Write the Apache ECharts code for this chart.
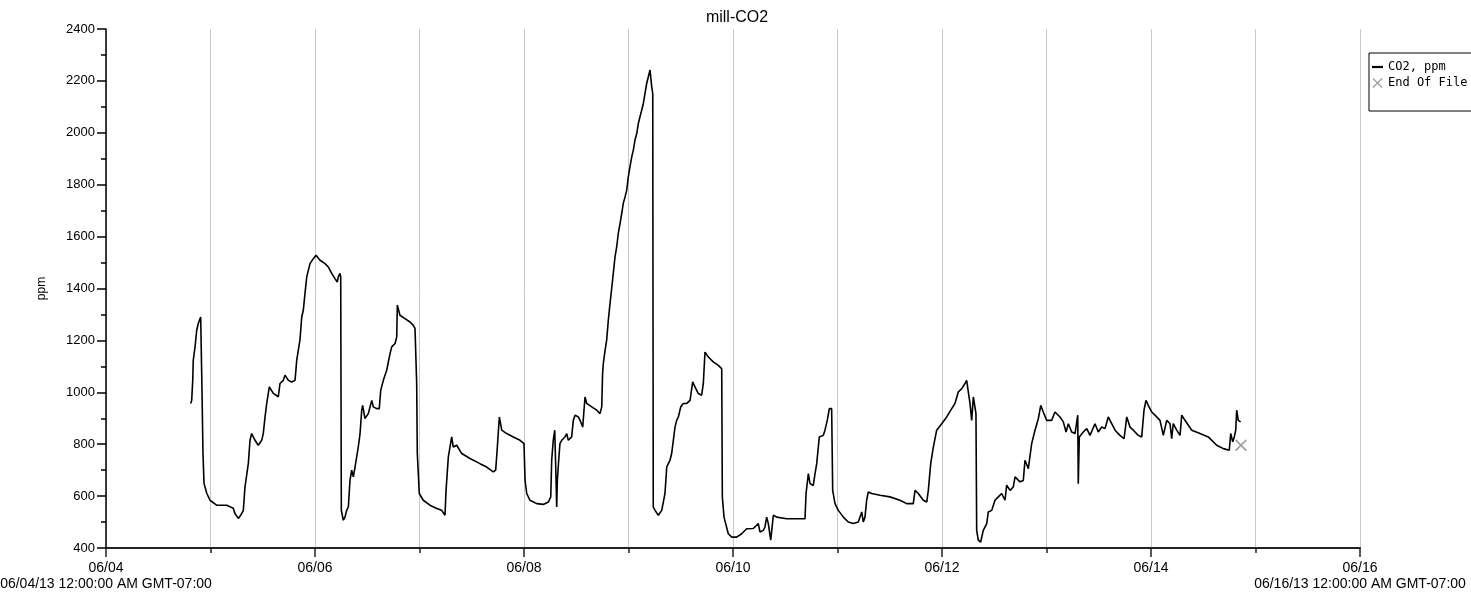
<!DOCTYPE html>
<html>
<head>
<meta charset="utf-8">
<script src="https://cdn.jsdelivr.net/npm/echarts@6.0.0/dist/echarts.min.js"></script>
<style>
* {
  margin: 0;
  padding: 0;
}
#chart-container {
  position: relative;
  width: 1471px;
  height: 592px;
  background: #fff;
  overflow: hidden;
}
</style>
</head>
<body>
<div id="chart-container"></div>
<script>
// time is given as day of June 2013 (GMT-07:00), value in ppm
const days = [
  4.811, 4.820, 4.830, 4.835, 4.852, 4.868, 4.883, 4.906, 4.914, 4.918, 4.928, 4.938, 4.964, 4.995,
  5.059, 5.155, 5.218, 5.234, 5.266, 5.289, 5.314, 5.330, 5.362, 5.378, 5.394, 5.426, 5.457, 5.490,
  5.505, 5.522, 5.538, 5.563, 5.601, 5.649, 5.665, 5.697, 5.713, 5.729, 5.745, 5.777, 5.809, 5.825,
  5.840, 5.856, 5.873, 5.888, 5.904, 5.921, 5.936, 5.952, 5.984, 6.010, 6.048, 6.096, 6.127, 6.160,
  6.191, 6.213, 6.223, 6.239, 6.246, 6.252, 6.271, 6.287, 6.303, 6.319, 6.335, 6.351, 6.367, 6.383,
  6.399, 6.414, 6.431, 6.447, 6.456, 6.478, 6.510, 6.543, 6.558, 6.590, 6.615, 6.629, 6.654, 6.686,
  6.718, 6.734, 6.766, 6.782, 6.788, 6.813, 6.861, 6.909, 6.941, 6.957, 6.973, 6.979, 6.998, 7.036,
  7.100, 7.165, 7.212, 7.244, 7.254, 7.276, 7.308, 7.323, 7.356, 7.404, 7.483, 7.579, 7.643, 7.706,
  7.729, 7.745, 7.764, 7.787, 7.834, 7.898, 7.962, 8.000, 8.010, 8.026, 8.057, 8.122, 8.185, 8.233,
  8.256, 8.265, 8.280, 8.294, 8.306, 8.313, 8.319, 8.332, 8.344, 8.361, 8.392, 8.409, 8.424, 8.456,
  8.472, 8.488, 8.520, 8.536, 8.562, 8.574, 8.584, 8.600, 8.648, 8.696, 8.727, 8.744, 8.752, 8.759,
  8.775, 8.791, 8.807, 8.823, 8.839, 8.855, 8.871, 8.887, 8.902, 8.919, 8.935, 8.950, 8.967, 8.983,
  8.998, 9.014, 9.031, 9.046, 9.062, 9.079, 9.094, 9.110, 9.126, 9.142, 9.158, 9.174, 9.190, 9.206,
  9.222, 9.232, 9.237, 9.254, 9.285, 9.301, 9.318, 9.349, 9.366, 9.381, 9.397, 9.413, 9.445, 9.461,
  9.477, 9.500, 9.524, 9.557, 9.589, 9.614, 9.636, 9.668, 9.700, 9.716, 9.732, 9.764, 9.811, 9.859,
  9.892, 9.898, 9.914, 9.930, 9.955, 9.988, 10.035, 10.083, 10.131, 10.194, 10.242, 10.258, 10.290,
  10.306, 10.322, 10.338, 10.361, 10.386, 10.418, 10.514, 10.610, 10.689, 10.699, 10.721, 10.737,
  10.768, 10.785, 10.801, 10.826, 10.864, 10.880, 10.902, 10.922, 10.944, 10.954, 10.976, 11.008,
  11.056, 11.103, 11.151, 11.199, 11.232, 11.247, 11.263, 11.279, 11.295, 11.327, 11.407, 11.502,
  11.598, 11.662, 11.725, 11.742, 11.773, 11.821, 11.854, 11.869, 11.892, 11.917, 11.949, 11.997,
  12.045, 12.093, 12.124, 12.156, 12.189, 12.220, 12.236, 12.252, 12.268, 12.284, 12.300, 12.316,
  12.325, 12.332, 12.347, 12.370, 12.395, 12.428, 12.443, 12.476, 12.507, 12.539, 12.571, 12.603,
  12.619, 12.651, 12.682, 12.699, 12.746, 12.778, 12.794, 12.826, 12.858, 12.890, 12.922, 12.945,
  12.969, 13.002, 13.050, 13.081, 13.129, 13.161, 13.187, 13.209, 13.241, 13.273, 13.299, 13.304,
  13.314, 13.352, 13.385, 13.416, 13.464, 13.496, 13.528, 13.560, 13.591, 13.624, 13.656, 13.703,
  13.742, 13.768, 13.799, 13.831, 13.878, 13.911, 13.933, 13.952, 13.974, 14.007, 14.038, 14.086,
  14.118, 14.150, 14.182, 14.198, 14.213, 14.246, 14.278, 14.294, 14.325, 14.390, 14.469, 14.548,
  14.629, 14.692, 14.749, 14.763, 14.782, 14.797, 14.811, 14.820, 14.835, 14.858
]
const ppm = [
  957, 969, 1046, 1123, 1175, 1239, 1265, 1290, 1290, 1021, 765, 649, 611, 584,
  565, 565, 553, 533, 514, 526, 545, 635, 726, 815, 841, 815, 796, 815,
  841, 905, 957, 1021, 996, 983, 1034, 1046, 1066, 1059, 1046, 1040, 1046, 1123,
  1162, 1201, 1290, 1316, 1380, 1445, 1470, 1496, 1515, 1528, 1509, 1496, 1483, 1458,
  1438, 1425, 1445, 1458, 1445, 545, 507, 519, 545, 558, 661, 700, 674, 712,
  751, 789, 841, 931, 950, 899, 918, 969, 944, 937, 937, 1008, 1046, 1085,
  1149, 1175, 1188, 1213, 1336, 1297, 1284, 1271, 1258, 1246, 1034, 764, 610, 584,
  565, 552, 545, 526, 622, 751, 828, 789, 796, 764, 745, 725, 712, 693,
  700, 789, 905, 854, 841, 828, 815, 802, 661, 610, 584, 571, 568, 577,
  597, 738, 815, 854, 674, 558, 661, 738, 802, 815, 828, 841, 815, 828,
  892, 912, 905, 892, 866, 931, 982, 957, 944, 931, 918, 944, 1072, 1111,
  1160, 1201, 1278, 1342, 1400, 1460, 1522, 1560, 1612, 1650, 1689, 1728, 1753, 1779,
  1830, 1869, 1907, 1933, 1972, 1997, 2036, 2062, 2087, 2113, 2152, 2190, 2216, 2242,
  2177, 2152, 558, 545, 526, 519, 545, 610, 712, 725, 738, 764, 866, 892,
  905, 944, 957, 957, 969, 1040, 1021, 995, 989, 1034, 1155, 1136, 1117, 1104,
  1091, 597, 519, 494, 455, 442, 442, 455, 474, 475, 494, 462, 468,
  481, 519, 494, 430, 526, 519, 513, 513, 513, 610, 687, 648,
  641, 687, 725, 828, 834, 854, 892, 937, 937, 622, 571, 545,
  519, 500, 494, 500, 539, 500, 519, 584, 616, 610, 603, 597,
  584, 571, 571, 622, 610, 584, 577, 622, 725, 789, 854, 879,
  905, 937, 957, 1001, 1014, 1034, 1046, 1001, 957, 892, 982, 982,
  918, 468, 430, 423, 468, 494, 539, 545, 584, 597, 610, 584,
  642, 622, 635, 674, 655, 660, 738, 706, 802, 854, 899, 950,
  924, 892, 892, 924, 905, 886, 847, 879, 847, 841, 912, 648,
  828, 847, 860, 834, 879, 847, 866, 860, 905, 879, 854, 834,
  821, 905, 866, 854, 834, 828, 931, 969, 950, 924, 912, 892,
  834, 892, 879, 821, 879, 854, 834, 912, 892, 854, 841, 828,
  796, 783, 777, 841, 809, 828, 854, 931, 892, 886
]
const endOfFile = [14.861, 796]

const seriesNames = ['CO2, ppm', 'End Of File']
const yTicks = { min: 400, max: 2400, step: 200 }
const xTicks = { min: 4, max: 16, step: 2 }
const edgeLabels = {
  4: '06/04/13 12:00:00 AM GMT-07:00',
  16: '06/16/13 12:00:00 AM GMT-07:00'
}

const chartDom = document.getElementById('chart-container')
const myChart = echarts.init(chartDom, null, { renderer: 'canvas' })

const lineData = days.map((d, i) => [d, ppm[i]])
const font = 'Liberation Sans, Arial, sans-serif'
const xMark = 'path://M0,1 L1,0 L5,4 L9,0 L10,1 L6,5 L10,9 L9,10 L5,6 L1,10 L0,9 L4,5 Z'
const dash = 'path://M0,0 L10,0 L10,2 L0,2 Z'

const formatDay = (v) => {
  const d = Math.round(v)
  const s = '06/' + String(d).padStart(2, '0')
  return edgeLabels[d] ? s + '\n' + edgeLabels[d] : s
}

const option = {
  animation: false,
  backgroundColor: '#fff',
  title: {
    text: 'mill-CO2',
    left: 732,
    textAlign: 'center',
    top: 5,
    textStyle: { fontSize: 16, fontWeight: 'normal', color: '#000', fontFamily: font }
  },
  legend: {
    orient: 'vertical',
    left: 1369,
    top: 53,
    padding: [8, 60, 22, 3],
    itemGap: 4,
    itemWidth: 11,
    itemHeight: 10,
    borderColor: '#000',
    borderWidth: 1,
    textStyle: { fontSize: 12, color: '#000', fontFamily: 'DejaVu Sans Mono, monospace' },
    data: [
      { name: seriesNames[0], icon: dash },
      { name: seriesNames[1] }
    ]
  },
  grid: {
    left: 106,
    right: 111,
    top: 29,
    bottom: 44,
    outerBoundsMode: 'none'
  },
  xAxis: {
    type: 'value',
    min: xTicks.min,
    max: xTicks.max,
    interval: xTicks.step,
    axisLine: { lineStyle: { color: '#222', width: 2 } },
    axisTick: { length: 9, lineStyle: { color: '#222', width: 1.5 } },
    minorTick: { show: true, splitNumber: 2, length: 5, lineStyle: { color: '#222', width: 1.5 } },
    splitLine: { show: true, lineStyle: { color: '#c8c8c8', width: 1 } },
    minorSplitLine: { show: true, lineStyle: { color: '#c8c8c8', width: 1 } },
    axisLabel: {
      margin: 12,
      color: '#000',
      fontSize: 14,
      lineHeight: 16,
      fontFamily: font,
      formatter: formatDay
    }
  },
  yAxis: {
    type: 'value',
    name: 'ppm',
    nameLocation: 'middle',
    nameGap: 58,
    nameTextStyle: { fontSize: 12, color: '#000', fontFamily: font },
    min: yTicks.min,
    max: yTicks.max,
    interval: yTicks.step,
    axisLine: { show: true, lineStyle: { color: '#000', width: 1.5 } },
    axisTick: { show: true, length: 9, lineStyle: { color: '#000', width: 1.5 } },
    minorTick: { show: true, splitNumber: 2, length: 5, lineStyle: { color: '#000', width: 1.5 } },
    splitLine: { show: false },
    axisLabel: {
      margin: 11,
      color: '#000',
      fontSize: 13,
      fontFamily: font,
      formatter: (v) => String(v)
    }
  },
  series: [
    {
      name: seriesNames[0],
      type: 'line',
      data: lineData,
      showSymbol: false,
      symbol: 'none',
      color: '#000',
      lineStyle: { color: '#000', width: 1.6 },
      z: 3
    },
    {
      name: seriesNames[1],
      type: 'scatter',
      data: [endOfFile],
      symbol: xMark,
      symbolSize: 12,
      itemStyle: { color: '#888' },
      z: 4
    }
  ]
}

myChart.setOption(option, true)
</script>
</body>
</html>
